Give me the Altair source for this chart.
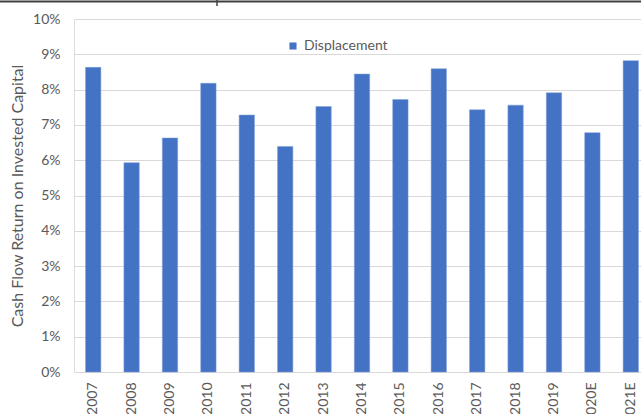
import altair as alt
import pandas as pd

years = ["2007", "2008", "2009", "2010", "2011", "2012", "2013", "2014",
         "2015", "2016", "2017", "2018", "2019", "2020E", "2021E"]
values_pct = [8.63, 5.93, 6.63, 8.18, 7.28, 6.39, 7.52, 8.44,
              7.72, 8.59, 7.43, 7.56, 7.91, 6.78, 8.82]
tick_values = [0.0, 0.01, 0.02, 0.03, 0.04, 0.05, 0.06, 0.07, 0.08, 0.09, 0.1]
series_name = "Displacement"
y_title = "Cash Flow Return on Invested Capital"

df = pd.DataFrame({
    "year": years,
    "value": [v / 100 for v in values_pct],
    "series": [series_name] * len(years),
})

FONT = "Lato"
TXT = "#595959"

bars = alt.Chart(df).mark_bar(color="#4472C4", stroke="#7f9fd8", strokeWidth=0.5).encode(
    x=alt.X("year:N", sort=years,
            scale=alt.Scale(range=[0, 576], paddingInner=0.6, paddingOuter=0.3),
            axis=alt.Axis(title=None, labelAngle=-90, ticks=False, domain=False,
                          labelPadding=10, labelFontSize=14, labelColor=TXT,
                          labelFont=FONT, grid=False, labelOverlap=False)),
    y=alt.Y("value:Q", scale=alt.Scale(domain=[0, 0.1], nice=False),
            axis=alt.Axis(title=y_title, format=".0%",
                          values=tick_values, labelOverlap=False,
                          ticks=False, domain=False, grid=True,
                          gridColor="#d9d9d9", gridWidth=1.2,
                          labelPadding=14, labelFontSize=14, labelColor=TXT,
                          labelFont=FONT, titleFont=FONT, titleFontSize=16,
                          titleFontWeight="normal", titleColor=TXT,
                          titlePadding=7)),
    color=alt.Color("series:N", scale=alt.Scale(range=["#4472C4"]),
                    legend=alt.Legend(title=None, orient="none", legendX=212,
                                      legendY=20, symbolType="square",
                                      symbolSize=50, labelFontSize=14,
                                      labelColor=TXT, labelFont=FONT,
                                      symbolStrokeWidth=0)),
)

border_df = pd.DataFrame({"k": [0]})
top_line = alt.Chart(border_df).mark_rule(color="#404040", strokeWidth=2).encode(
    x=alt.value(-74), x2=alt.value(567), y=alt.value(-17.5)
)
tick = alt.Chart(border_df).mark_rule(color="#404040", strokeWidth=1.5).encode(
    x=alt.value(143), y=alt.value(-19), y2=alt.value(-13)
)

chart = alt.layer(bars, top_line, tick).properties(
    width=567, height=353,
    autosize=alt.AutoSizeParams(type="none"),
    padding={"left": 74, "top": 19, "right": 0, "bottom": 42},
).configure_view(stroke=None).configure(background="white")

chart.save("out.html", embed_options={"renderer": "svg", "actions": False})
